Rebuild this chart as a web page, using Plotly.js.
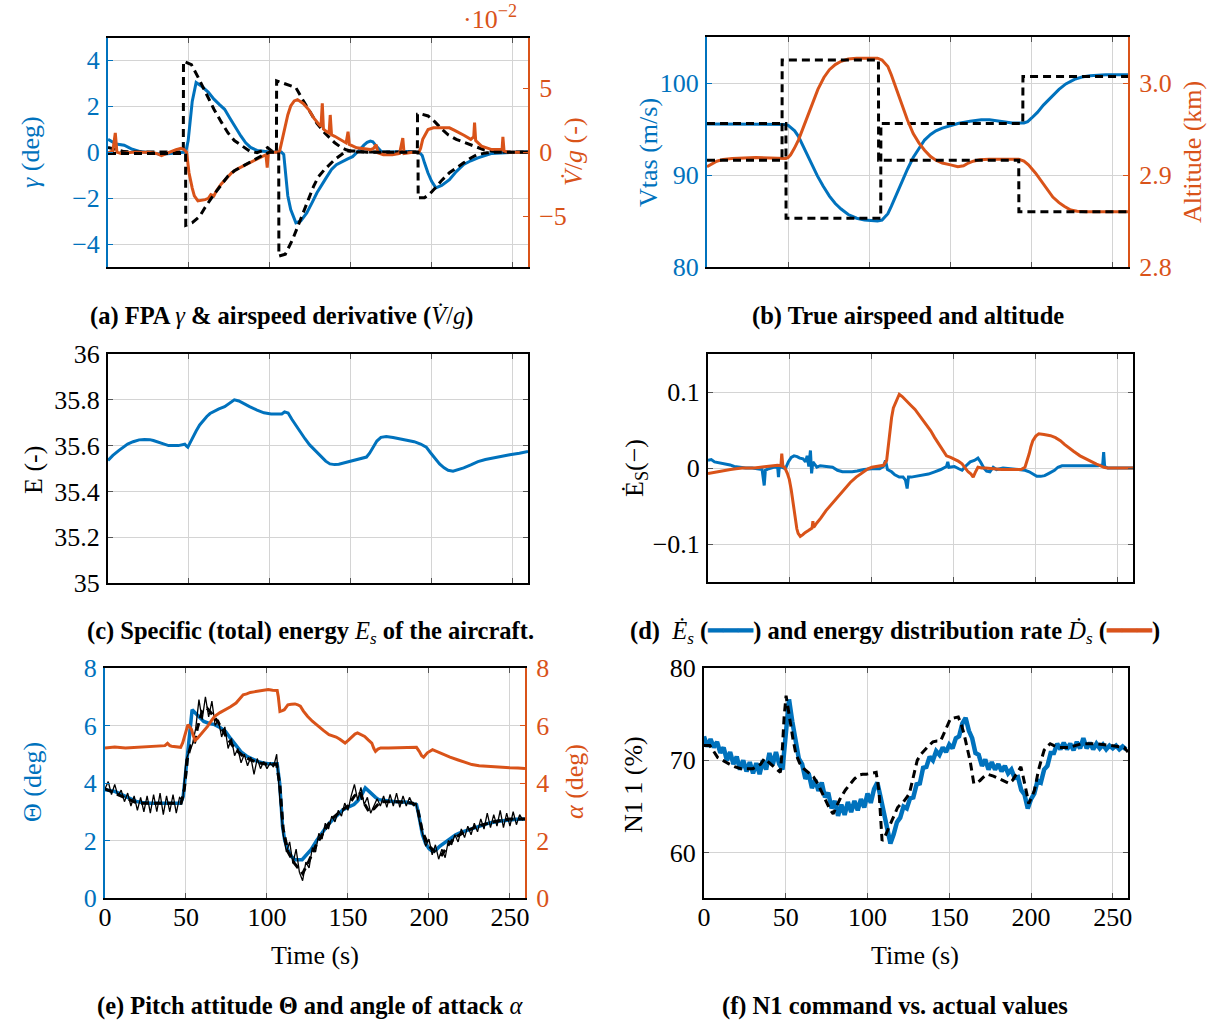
<!DOCTYPE html>
<html>
<head>
<meta charset="utf-8">
<script src="https://cdn.plot.ly/plotly-3.0.1.min.js"></script>
<style>html,body{margin:0;padding:0;background:#fff;}#chart{width:1209px;height:1021px;}</style>
</head>
<body>
<div id="chart"></div>
<script>
// ---------- DATA ----------
const xTicks = [0, 50, 100, 150, 200, 250];
const xTickText = ['0', '50', '100', '150', '200', '250'];

// (a) flight path angle gamma (deg) and airspeed derivative Vdot/g (x1e-2)
const gammaPts = [[0,0.55],[5,0.35],[10,0.3],[15,0.12],[20,0.02],[30,-0.05],[33,-0.1],[40,-0.05],[45,0],[48,0],[49.5,0.5],[52,2.2],[54.4,3.02],[58,2.85],[62,2.6],[65.4,2.3],[69,2.05],[72,1.86],[75,1.5],[78.6,1.06],[82,0.7],[85,0.4],[88,0.2],[92,0.07],[96,0.02],[100,0],[104,0],[107,0],[108.5,-0.1],[109.5,-0.9],[111,-1.9],[112.8,-2.5],[116,-3.08],[119,-3.0],[122.7,-2.65],[126,-2.2],[129,-1.77],[134,-1.2],[138,-0.76],[141,-0.55],[144.7,-0.4],[148,-0.3],[151,-0.2],[153.5,-0.05],[155.7,0.12],[158,0.3],[160,0.42],[162,0.48],[163.5,0.45],[165.6,0.26],[169,0],[175,0],[185,0.02],[192,0],[194,-0.15],[195.4,-0.47],[197.5,-0.9],[199.8,-1.27],[202.4,-1.56],[206,-1.45],[210.8,-1.2],[215,-0.85],[219.6,-0.54],[224,-0.38],[228.4,-0.25],[237,-0.06],[250,0],[259.3,0.02]];
const vdotPts = [[0,-0.05],[3,0.1],[4.5,1.5],[5.5,0.0],[8,-0.1],[15,0],[25,0],[30,-0.1],[33,-0.26],[36,-0.1],[40,0.1],[42,0.2],[45,0.3],[47,0.2],[48.5,0],[50,-1.6],[52,-2.8],[53.3,-3.4],[55.5,-3.8],[58,-3.75],[60,-3.7],[62,-3.6],[63.5,-3.3],[65.4,-3.4],[67,-3.0],[69.8,-2.5],[73,-2.1],[76.4,-1.6],[80,-1.3],[85.2,-0.96],[88,-0.8],[92,-0.57],[95,-0.35],[97.5,-0.2],[98.3,-1.2],[99,-0.05],[101,0],[105,0],[106,0.1],[107.5,1.0],[109.5,2.0],[111,2.9],[112.8,3.6],[115,4.0],[117,4.1],[120.5,3.8],[124,3.3],[127,2.67],[130,2.2],[131.5,2.0],[132.3,3.8],[133,1.8],[135,1.6],[136.5,1.5],[137.2,2.9],[138,1.35],[140,1.24],[143,1.0],[147,0.72],[148.2,1.6],[149,0.6],[153.5,0.34],[158,0.25],[162,0.2],[164,0.3],[165.5,0.6],[166.7,-0.05],[170,-0.2],[175.6,-0.2],[180,-0.1],[182,1.1],[182.8,-0.1],[188,0],[192,0],[193,0.3],[194.3,1.0],[196,1.4],[197.6,1.76],[200.9,1.9],[205,1.9],[210.8,1.9],[214,1.7],[217.4,1.5],[220,1.3],[224,1.0],[225.8,1.2],[226.3,2.3],[227,0.9],[230.6,0.47],[234,0.3],[237,0.2],[240,0.2],[243.3,0.2],[243.8,1.2],[244.5,0.1],[247,0],[259.3,0]];
const gammaCmdPts = [[0,0.2],[5,0.1],[10,0.02],[20,0],[30,0],[40,0],[46.5,0],[46.6,3.95],[51.5,3.8],[56,3.2],[60,2.6],[65.4,1.86],[70,1.3],[74,0.84],[78,0.5],[83,0.26],[87.5,0.04],[92,-0.03],[95,0.05],[98.5,0.19],[101,0.05],[104,0],[104.1,3.1],[108,3.0],[112,2.9],[116,2.8],[120,2.3],[125,1.7],[129,1.25],[133.7,0.84],[137,0.6],[140,0.4],[144,0.2],[147,0.1],[152,0],[160,0],[191,0],[191.1,1.64],[194,1.64],[197.6,1.57],[202,1.3],[206,1.0],[210,0.75],[215,0.55],[220,0.42],[224,0.33],[228,0.2],[232,0.1],[238,0.03],[245,0],[259.3,0]];
const vdotCmdPts = [[0,-0.1],[10,-0.1],[20,-0.15],[30,-0.15],[40,-0.1],[47.9,-0.1],[48,-5.7],[52,-5.5],[56.6,-5.0],[60,-4.3],[65.4,-3.3],[70,-2.5],[74,-1.87],[78,-1.45],[83,-1.1],[87,-0.8],[92,-0.44],[96,-0.2],[100,0],[105.4,0],[105.5,-8.1],[109.5,-7.95],[114,-6.8],[117,-5.8],[120.5,-4.7],[124,-3.6],[127,-2.64],[130,-1.9],[133.7,-1.35],[137,-0.9],[140,-0.57],[144,-0.2],[147,0.1],[152,0.1],[160,0],[191.4,0],[191.5,-3.55],[195.4,-3.55],[199,-3.2],[202,-2.8],[206,-2.2],[210.8,-1.6],[215,-1.2],[219.6,-0.83],[224,-0.45],[228,-0.18],[234,-0.05],[240,0],[259.3,0]];

// (b) true airspeed (m/s) and altitude (km)
const vtasPts = [[0,95.55],[20,95.55],[40,95.5],[48,95.5],[50,95.4],[51.5,95.2],[54,94.8],[56.3,94.2],[58.5,93.4],[61,92.4],[64.5,91.1],[68,89.9],[71.5,88.8],[75.4,87.7],[79,86.9],[82.6,86.3],[87,85.7],[92.2,85.3],[97,85.1],[101.8,85.0],[105,85.0],[107.8,85.1],[109.5,85.4],[111.4,85.8],[113.5,86.6],[116.2,87.7],[119.5,89.1],[123.4,90.6],[127,91.9],[130.5,92.9],[134,93.8],[137.7,94.4],[141,94.8],[144.9,95.1],[150,95.4],[154.5,95.6],[162,95.85],[168.9,96.0],[174,96.0],[178.4,95.9],[184,95.75],[188,95.65],[195.2,95.65],[197.5,95.8],[200,96.2],[203.5,96.8],[207.2,97.6],[212,98.5],[216.8,99.3],[221,99.9],[226.3,100.4],[231,100.65],[235.9,100.8],[245.5,100.9],[259.3,100.9]];
const altPts = [[0,2.909],[3,2.912],[6,2.915],[10,2.917],[15.6,2.918],[30,2.919],[44.3,2.918],[48.6,2.918],[50,2.919],[51.5,2.922],[53.8,2.929],[56.3,2.938],[58.5,2.948],[61,2.96],[64.5,2.977],[68.3,2.993],[72,3.006],[75.4,3.0145],[79,3.02],[82.6,3.0236],[87,3.026],[92.2,3.027],[101.8,3.027],[105,3.027],[107.8,3.025],[109.5,3.022],[111.4,3.018],[113.5,3.009],[116.2,2.996],[119.5,2.978],[123.4,2.96],[127,2.945],[130.5,2.935],[134,2.927],[137.7,2.92],[141,2.916],[144.9,2.913],[150,2.911],[154.5,2.909],[158,2.910],[161,2.913],[164,2.915],[168,2.9165],[173.7,2.917],[188,2.917],[192,2.917],[195.2,2.915],[198,2.911],[202.4,2.902],[206,2.893],[209.6,2.884],[213,2.876],[216.8,2.87],[220,2.866],[224,2.862],[228,2.8605],[233.5,2.86],[259.3,2.86]];
const vtasCmdPts = [[0,95.6],[48.6,95.6],[48.7,85.3],[107,85.3],[107.1,95.6],[194.5,95.6],[194.6,100.7],[259.3,100.7]];
const altCmdPts = [[0,2.916],[46.2,2.916],[46.3,3.025],[105.6,3.025],[105.7,2.916],[192,2.916],[192.1,2.86],[259.3,2.86]];

// (c) specific total energy
const energyPts = [[0,35.535],[3,35.557],[6.6,35.578],[9.5,35.595],[12.1,35.607],[15.5,35.617],[19.2,35.625],[22.5,35.627],[25.8,35.626],[28,35.622],[30.2,35.617],[34,35.607],[37.4,35.6],[43.4,35.6],[46,35.604],[47.4,35.606],[48.5,35.598],[49.3,35.593],[50.5,35.61],[52.2,35.636],[54.5,35.665],[56.6,35.69],[59,35.712],[61,35.727],[63,35.74],[65.4,35.75],[68.5,35.76],[72,35.77],[75,35.785],[78,35.8],[80.8,35.795],[84,35.782],[87.4,35.77],[92,35.755],[96.3,35.743],[100.7,35.738],[104,35.738],[107.3,35.738],[109,35.747],[111.2,35.742],[113.5,35.715],[116,35.687],[118.5,35.66],[121.6,35.63],[124.5,35.603],[127.8,35.578],[131,35.553],[134.4,35.532],[137,35.52],[139.9,35.517],[142.5,35.519],[145.4,35.524],[149,35.531],[152,35.537],[156.4,35.542],[158,35.544],[159.6,35.55],[161.5,35.567],[164,35.6],[166,35.62],[168.5,35.636],[171.8,35.64],[176,35.635],[180,35.63],[184.5,35.624],[189,35.617],[193,35.607],[196.5,35.593],[199,35.57],[202,35.542],[204.7,35.52],[207.5,35.503],[210,35.492],[213,35.488],[216,35.494],[219.6,35.503],[224,35.516],[228.4,35.53],[233,35.539],[237.4,35.546],[243,35.553],[248,35.56],[254,35.567],[259.3,35.574]];

// (d) energy rate Es_dot and distribution rate Ds_dot
const esDotPts = [[0,0.01],[2,0.011],[4,0.008],[7,0.007],[11,0.0056],[13.5,0.004],[16,0.002],[19,0.001],[23,0],[27,0],[30.4,-0.001],[33,-0.002],[34.3,-0.023],[35,-0.003],[37,-0.001],[40,0.001],[42.5,0.001],[43,-0.012],[43.5,0.001],[45,0.001],[47.2,-0.001],[49,0.008],[50.8,0.014],[52.5,0.016],[54.4,0.015],[56,0.013],[58,0.012],[59.5,0.008],[60.5,0.016],[61.5,0.002],[62.5,0.023],[63.2,-0.007],[64,0.008],[66.4,0.001],[68.5,0.003],[71.2,0.002],[74,0.001],[76,0.001],[79,-0.003],[82,-0.005],[85,-0.005],[88,-0.005],[91,-0.004],[95.2,-0.002],[100,-0.001],[104.7,-0.001],[107,0.002],[108.3,0.01],[109.5,-0.002],[112,-0.005],[114,-0.009],[116.7,-0.012],[119,-0.012],[120.5,-0.016],[121.5,-0.027],[122.3,-0.012],[124,-0.012],[127,-0.011],[131,-0.01],[134.5,-0.008],[138.3,-0.005],[142,-0.002],[145.5,0.002],[146.3,0.008],[147,0.001],[150.3,0.002],[153,-0.001],[155,-0.003],[157,0.002],[160,0.008],[162.5,0.01],[164.7,0.013],[166.3,0.008],[168.3,0],[170,-0.004],[172,-0.005],[174,0.001],[176,-0.002],[180,0],[186,-0.001],[190,-0.002],[193.4,-0.003],[196,-0.005],[198,-0.008],[200.6,-0.011],[203,-0.011],[205.4,-0.01],[208,-0.007],[211.4,-0.003],[213.5,0.001],[216,0.003],[220,0.003],[224.6,0.003],[230,0.003],[234,0.003],[238,0.003],[240.8,0.004],[241.4,0.021],[242,0.002],[244,0],[250,0],[259.3,0]];
const dsDotPts = [[0,-0.0074],[3,-0.006],[6.5,-0.005],[10,-0.0035],[13.7,-0.002],[17,-0.001],[20.9,0],[25,0],[28,0],[32,0.001],[35,0.002],[38,0.003],[42.4,0.0035],[44.5,0.003],[45,0.019],[45.7,0.002],[46.7,0.001],[48.4,-0.007],[49.6,-0.015],[50.8,-0.029],[52,-0.048],[53.2,-0.068],[54.2,-0.08],[55,-0.086],[56.3,-0.09],[57.7,-0.088],[59.2,-0.085],[61.5,-0.082],[63.5,-0.079],[64,-0.07],[64.5,-0.078],[66.5,-0.072],[68.8,-0.066],[72,-0.056],[76,-0.046],[79.5,-0.036],[83.2,-0.027],[86.8,-0.019],[90.4,-0.012],[94,-0.006],[97.6,-0.001],[100,0.001],[102.4,0.002],[105,0.003],[107.1,0.0035],[109,0.01],[110,0.03],[110.7,0.049],[112,0.066],[113.1,0.079],[115,0.09],[116.7,0.097],[118.5,0.094],[121.5,0.088],[124,0.082],[126.3,0.077],[128.7,0.07],[131,0.062],[133.5,0.055],[135.9,0.049],[138.3,0.04],[140.7,0.032],[143,0.024],[145.5,0.016],[148,0.014],[150.3,0.012],[152.7,0.009],[155,0.0056],[157,0],[158.7,-0.005],[160.5,-0.008],[161.8,-0.012],[163,-0.006],[164.7,0.001],[167,0],[169.5,0],[174,-0.001],[179,-0.002],[185,-0.002],[191,-0.002],[193.4,0.001],[194.8,0.01],[196,0.019],[197,0.028],[198.2,0.036],[200,0.042],[201.8,0.045],[205,0.044],[209,0.0425],[212,0.04],[215,0.036],[217.5,0.031],[219.8,0.027],[223,0.022],[227,0.016],[230.5,0.012],[234.2,0.008],[237,0.005],[239,0.0035],[241.5,0.001],[243.8,0],[259.3,0]];

// (e) pitch attitude theta (deg) and angle of attack alpha (deg)
const thetaPts = [[0,3.77],[3,3.75],[6,3.71],[9,3.63],[12.6,3.54],[16,3.45],[19.2,3.36],[23,3.32],[28,3.3],[39,3.3],[46.7,3.3],[48.3,3.54],[49.8,4.3],[51.2,5.16],[52.5,5.9],[53.8,6.55],[55,6.48],[56.7,6.38],[59,6.25],[61,6.14],[64,6.08],[67.7,6.03],[71,5.93],[74.3,5.8],[77.5,5.55],[80.9,5.28],[84,5.08],[87.5,4.93],[91,4.82],[94.2,4.75],[97.5,4.7],[100.8,4.67],[106.3,4.67],[107.8,4.0],[108.8,3.2],[109.6,2.49],[111,2.0],[112.9,1.68],[115,1.45],[117.3,1.33],[121.7,1.33],[124.5,1.5],[127.2,1.68],[130.5,1.98],[133.8,2.26],[137,2.5],[140.5,2.72],[144,2.92],[147,3.07],[150.5,3.17],[153.7,3.25],[156,3.38],[158,3.54],[160.7,3.83],[162.7,3.72],[164.7,3.59],[167,3.5],[169,3.42],[173,3.38],[178,3.36],[186.8,3.33],[190,3.3],[192.3,3.25],[193.5,2.95],[194.5,2.61],[196,2.2],[197.8,1.91],[200,1.72],[202.2,1.62],[204.5,1.68],[206.6,1.8],[210,1.95],[213.2,2.09],[216.5,2.2],[219.8,2.28],[224,2.36],[228.7,2.43],[233,2.52],[237.5,2.61],[243,2.67],[248.5,2.72],[254,2.74],[259.3,2.75]];
const thetaMeasDt = 2; // sampling interval (s) of the measured pitch signal, starting at t = 0
const thetaMeas = [3.8,4.05,3.6,3.95,3.55,3.75,3.35,3.65,3.2,3.55,3.05,3.5,3.0,3.55,2.95,3.6,3.0,3.65,2.9,3.55,3.0,3.6,2.95,3.5,3.4,4.8,5.1,5.35,5.9,6.9,6.2,7.0,6.3,6.85,6.0,6.2,5.6,5.95,5.2,5.55,4.95,5.2,4.7,5.0,4.6,4.9,4.3,4.85,4.5,4.75,4.5,4.7,4.55,5.0,3.4,2.2,1.6,1.95,1.2,1.7,0.9,0.6,1.25,1.05,1.75,1.6,2.25,2.05,2.6,2.4,2.85,2.65,3.05,2.85,3.3,3.05,3.55,3.95,3.4,3.85,3.25,3.5,2.95,3.2,3.45,3.2,3.55,3.15,3.6,3.2,3.65,3.15,3.55,3.2,3.5,3.25,3.3,2.7,2.2,1.8,2.05,1.5,1.85,1.35,1.7,1.4,2.0,1.85,2.2,1.95,2.4,2.1,2.5,2.2,2.6,2.3,2.75,2.4,2.95,2.45,2.9,2.5,3.05,2.45,2.95,2.5,3.0,2.55,2.9,2.7];
const thetaCmdPts = [[0,3.8],[10,3.55],[20,3.3],[47,3.3],[49,3.8],[51,4.9],[53,5.3],[55,5.3],[57,5.9],[60,6.5],[63,6.6],[66,6.4],[70,6.1],[75,5.6],[80,5.2],[85,4.95],[90,4.8],[95,4.7],[100,4.65],[106,4.65],[108,3.9],[110,2.4],[113,1.6],[117,1.2],[120,1.0],[122,0.85],[126,1.3],[130,1.8],[135,2.3],[140,2.75],[145,3.0],[150,3.2],[154,3.55],[157,3.7],[160,3.3],[163,3.0],[166,3.1],[170,3.35],[180,3.35],[190,3.3],[193,3.1],[196,2.3],[200,1.8],[204,1.6],[208,1.5],[212,1.85],[216,2.1],[222,2.3],[230,2.5],[240,2.65],[250,2.75],[259.3,2.75]];
const alphaPts = [[0,5.22],[6,5.25],[12.6,5.22],[18,5.24],[23.6,5.25],[29,5.27],[34.6,5.28],[37,5.3],[38.6,5.38],[40,5.3],[41.2,5.28],[44,5.26],[46.7,5.24],[48,5.4],[49,5.62],[50,5.85],[51.2,6.03],[52.3,5.95],[53.4,5.86],[54.5,5.65],[55.6,5.48],[57,5.55],[59,5.68],[61,5.82],[63.3,5.97],[65.5,6.15],[67.7,6.32],[71,6.45],[74.3,6.55],[77.5,6.65],[80.9,6.78],[83,6.92],[85.3,7.07],[87.5,7.1],[89.7,7.15],[92,7.17],[94.2,7.19],[97.5,7.22],[100.8,7.25],[103.5,7.23],[106.3,7.22],[107,7.0],[108,6.49],[109.5,6.52],[110.7,6.55],[112,6.65],[112.9,6.72],[115,6.74],[117.3,6.75],[119,6.72],[120.6,6.67],[122.5,6.5],[125,6.32],[128,6.15],[131.6,5.97],[135,5.82],[138.3,5.68],[140.5,5.64],[142.7,5.6],[145,5.52],[148.2,5.39],[150.5,5.5],[152.6,5.62],[154.3,5.7],[155.9,5.74],[158,5.68],[160.3,5.62],[162.5,5.5],[164.7,5.39],[166,5.2],[167,5.1],[168.5,5.18],[170.2,5.22],[175,5.22],[180,5.22],[186,5.23],[192.3,5.24],[194,5.1],[195.5,4.95],[196.7,4.9],[199,5.05],[202.2,5.16],[205.5,5.08],[208.8,4.99],[213,4.9],[217.6,4.81],[222,4.72],[226.5,4.64],[231,4.6],[235.3,4.58],[240,4.57],[244.1,4.56],[250,4.53],[255,4.52],[259.3,4.5]];

// (f) N1 command vs actual (%)
const n1CmdPts = [[0,71.6],[3.6,71.6],[8.4,70.3],[12,69.9],[15.5,69.6],[19,69.3],[22.7,69.1],[26,69.1],[29.9,69.1],[32,69.3],[34.7,69.6],[37,70.2],[39.5,69.8],[41.9,69.4],[44.5,69.0],[46.7,68.7],[48,71.5],[49,74.7],[50.2,77],[51.5,75.5],[52.6,73.9],[54.5,72.2],[56.2,70.7],[58.5,69.7],[61,69.1],[64,68.6],[67,68.2],[69.5,67.5],[71.8,66.7],[73.5,66.0],[75.4,65.3],[77,64.7],[79,64.2],[81,65.0],[83.7,66.0],[86.5,66.8],[89.7,67.5],[92,68.0],[94.5,68.4],[97,68.5],[99.3,68.5],[102,68.6],[105.3,68.7],[107,66.7],[108,64],[108.9,61.3],[110,61.5],[111.2,62],[113,62.8],[114.8,63.5],[116.5,64.2],[118.4,64.9],[120,65.2],[122,65.5],[124,66.0],[125.6,66.4],[128,68.2],[130.4,70.0],[132.8,70.7],[135.2,71.2],[137.5,71.6],[140,72.0],[142.5,72.1],[144.7,72.1],[147.5,73.2],[150.7,74.5],[153,74.6],[155.5,74.7],[157.3,73.9],[159,72.9],[161,71.3],[162.7,70.0],[164,68.6],[165,67.5],[166.8,67.6],[168.7,67.8],[171,68.2],[173.4,68.5],[177,68.3],[180.6,68.0],[183.5,67.8],[186.6,67.5],[188.5,67.8],[190,68.2],[192,68.8],[193.8,69.3],[195,68.4],[196.2,67.5],[197.4,66.4],[198.6,65.3],[200.3,66.0],[202,66.7],[203.3,67.8],[204.5,68.9],[206.2,70.0],[208,71.1],[209.8,71.5],[211.7,71.8],[214,71.6],[216.5,71.4],[220,71.4],[223.7,71.4],[227,71.6],[230.9,71.8],[235,71.8],[240.4,71.8],[245,71.7],[250,71.6],[254,71.5],[257,71.4],[259.3,70.9]];
const n1Dt = 2; // sampling interval (s) of the measured N1 signal, starting at t = 0
const n1Meas = [72.6,71.5,72.3,71.4,72.0,70.8,71.4,70.0,70.9,69.6,70.4,69.0,70.0,68.8,69.8,68.6,69.7,68.5,70.0,69.0,70.8,69.5,70.9,69.6,69.0,72.8,76.6,74.2,72.3,70.2,69.6,68.0,68.6,67.0,67.9,66.7,67.6,66.0,66.5,64.8,65.6,64.0,65.2,64.1,65.5,64.4,65.6,64.6,65.8,64.9,66.4,65.4,66.9,67.6,66.0,64.3,62.4,61.0,62.0,63.3,63.8,65.0,64.8,65.9,66.0,67.4,67.5,69.2,69.3,70.4,70.0,71.0,70.6,71.4,70.9,71.7,71.3,72.4,72.6,74.0,74.6,73.2,72.4,70.8,70.6,69.4,70.1,69.0,69.8,69.0,69.6,68.8,69.4,68.6,69.0,68.1,68.2,66.8,66.3,64.8,65.8,66.4,67.8,67.6,69.0,69.4,70.8,70.8,71.8,71.2,71.9,71.2,71.8,71.1,72.0,71.3,72.4,71.3,71.9,71.2,71.8,71.3,71.7,71.2,71.6,71.3,71.6,71.2,71.5,71.2];

// ---------- HELPERS ----------
const W = 1209, H = 1021;
const BLUE = '#0072BD', ORANGE = '#D95319', GRID = '#d4d4d4';
const FONT = 'Liberation Serif, Times New Roman, serif';
const XR = [0, 259.3];
const xs = p => p.map(v => v[0]);
const ys = p => p.map(v => v[1]);
const sampled = (arr, dt) => arr.map((_, i) => i * dt);

const xd = (a, b) => [a / W, b / W];
const yd = (a, b) => [1 - b / H, 1 - a / H];

const box = {
  a: [108, 528, 38, 267],
  b: [707, 1128, 37, 267],
  c: [108, 528, 354, 583],
  d: [708, 1133, 354, 582],
  e: [105, 525, 668, 898],
  f: [704, 1128, 668, 898]
};

function xAxis(bx, anchor, labels) {
  return {
    domain: xd(bx[0], bx[1]), anchor: anchor, range: XR,
    tickmode: 'array', tickvals: xTicks, ticktext: xTickText, showticklabels: labels,
    showgrid: true, gridcolor: GRID, gridwidth: 1, zeroline: false,
    showline: true, linecolor: 'black', linewidth: 2, mirror: 'ticks',
    ticks: 'inside', ticklen: 5, tickwidth: 1, tickcolor: '#555',
    tickfont: {family: FONT, size: 26, color: 'black'}, ticklabelstandoff: -5, fixedrange: true
  };
}
function yAxis(bx, anchor, range, vals, text, color, lineColor, mirror) {
  return {
    domain: yd(bx[2], bx[3]), anchor: anchor, range: range,
    tickmode: 'array', tickvals: vals, ticktext: text,
    showgrid: true, gridcolor: GRID, gridwidth: 1, zeroline: false,
    showline: true, linecolor: lineColor, linewidth: 2, mirror: mirror,
    ticks: 'inside', ticklen: 5, tickwidth: 1, tickcolor: lineColor === 'black' ? '#555' : lineColor,
    tickfont: {family: FONT, size: 26, color: color}, ticklabelstandoff: 1, fixedrange: true
  };
}
function yRight(overlay, anchor, range, vals, text, color) {
  return {
    overlaying: overlay, side: 'right', anchor: anchor, range: range,
    tickmode: 'array', tickvals: vals, ticktext: text,
    showgrid: false, zeroline: false,
    showline: true, linecolor: color, linewidth: 2,
    ticks: 'inside', ticklen: 5, tickwidth: 1, tickcolor: color,
    tickfont: {family: FONT, size: 26, color: color}, ticklabelstandoff: 4, fixedrange: true
  };
}
function line(x, y, xa, ya, color, width, dash) {
  return {x: x, y: y, xaxis: xa, yaxis: ya, type: 'scatter', mode: 'lines',
          line: {color: color, width: width, dash: dash || 'solid'}, hoverinfo: 'skip'};
}
function ann(text, x, y, o) {
  return Object.assign({text: text, x: x / W, y: 1 - y / H, xref: 'paper', yref: 'paper',
    showarrow: false, xanchor: 'center', yanchor: 'middle',
    font: {family: FONT, size: 26, color: 'black'}}, o || {});
}

const DASH = '8px,5px';
const CAP = {family: FONT, size: 24.5, color: 'black'};

// ---------- TRACES ----------
const data = [
  // (a)
  line(xs(gammaPts), ys(gammaPts), 'x', 'y', BLUE, 3),
  line(xs(gammaCmdPts), ys(gammaCmdPts), 'x', 'y', 'black', 3, DASH),
  line(xs(vdotPts), ys(vdotPts), 'x', 'y2', ORANGE, 3),
  line(xs(vdotCmdPts), ys(vdotCmdPts), 'x', 'y2', 'black', 3, DASH),
  // (b)
  line(xs(vtasPts), ys(vtasPts), 'x2', 'y3', BLUE, 3),
  line(xs(vtasCmdPts), ys(vtasCmdPts), 'x2', 'y3', 'black', 3, DASH),
  line(xs(altPts), ys(altPts), 'x2', 'y4', ORANGE, 3),
  line(xs(altCmdPts), ys(altCmdPts), 'x2', 'y4', 'black', 3, DASH),
  // (c)
  line(xs(energyPts), ys(energyPts), 'x3', 'y5', BLUE, 3),
  // (d)
  line(xs(esDotPts), ys(esDotPts), 'x4', 'y6', BLUE, 3),
  line(xs(dsDotPts), ys(dsDotPts), 'x4', 'y6', ORANGE, 3),
  // (e)
  line(xs(thetaPts), ys(thetaPts), 'x5', 'y7', BLUE, 3.5),
  line(sampled(thetaMeas, thetaMeasDt), thetaMeas, 'x5', 'y7', 'black', 1.3),
  line(xs(thetaCmdPts), ys(thetaCmdPts), 'x5', 'y7', 'black', 3, DASH),
  line(xs(alphaPts), ys(alphaPts), 'x5', 'y8', ORANGE, 3),
  // (f)
  line(sampled(n1Meas, n1Dt), n1Meas, 'x6', 'y9', BLUE, 4.5),
  line(xs(n1CmdPts), ys(n1CmdPts), 'x6', 'y9', 'black', 3, DASH)
];

// ---------- LAYOUT ----------
const layout = {
  width: W, height: H,
  margin: {l: 0, r: 0, t: 0, b: 0, pad: 0},
  paper_bgcolor: 'white', plot_bgcolor: 'white',
  showlegend: false,
  font: {family: FONT, size: 26, color: 'black'},
  xaxis: xAxis(box.a, 'y', false),
  yaxis: yAxis(box.a, 'x', [-5, 4.96], [-4, -2, 0, 2, 4], ['−4', '−2', '0', '2', '4'], BLUE, BLUE, false),
  yaxis2: yRight('y', 'x', [-8.95, 8.9], [-5, 0, 5], ['−5', '0', '5'], ORANGE),
  xaxis2: xAxis(box.b, 'y3', false),
  yaxis3: yAxis(box.b, 'x2', [80, 105], [80, 90, 100], ['80', '90', '100'], BLUE, BLUE, false),
  yaxis4: yRight('y3', 'x2', [2.8, 3.05], [2.8, 2.9, 3.0], ['2.8', '2.9', '3.0'], ORANGE),
  xaxis3: xAxis(box.c, 'y5', false),
  yaxis5: yAxis(box.c, 'x3', [35, 36], [35, 35.2, 35.4, 35.6, 35.8, 36], ['35', '35.2', '35.4', '35.6', '35.8', '36'], 'black', 'black', 'ticks'),
  xaxis4: xAxis(box.d, 'y6', false),
  yaxis6: yAxis(box.d, 'x4', [-0.15, 0.15], [-0.1, 0, 0.1], ['−0.1', '0', '0.1'], 'black', 'black', 'ticks'),
  xaxis5: xAxis(box.e, 'y7', true),
  yaxis7: yAxis(box.e, 'x5', [0, 8], [0, 2, 4, 6, 8], ['0', '2', '4', '6', '8'], BLUE, BLUE, false),
  yaxis8: yRight('y7', 'x5', [0, 8], [0, 2, 4, 6, 8], ['0', '2', '4', '6', '8'], ORANGE),
  xaxis6: xAxis(box.f, 'y9', true),
  yaxis9: yAxis(box.f, 'x6', [55.1, 80], [60, 70, 80], ['60', '70', '80'], 'black', 'black', 'ticks'),
  annotations: [
    // axis titles
    ann('<i>γ</i> (deg)', 30, 152, {textangle: -90, font: {family: FONT, size: 26, color: BLUE}}),
    ann('<i>V̇</i>/<i>g</i> (-)', 573, 152, {textangle: -90, font: {family: FONT, size: 26, color: ORANGE}}),
    ann('·10<sup>−2</sup>', 490, 18, {font: {family: FONT, size: 26, color: ORANGE}}),
    ann('Vtas (m/s)', 648, 152, {textangle: -90, font: {family: FONT, size: 26, color: BLUE}}),
    ann('Altitude (km)', 1192, 152, {textangle: -90, font: {family: FONT, size: 26, color: ORANGE}}),
    ann('E (-)', 33, 470, {textangle: -90}),
    ann('Ė<sub>S</sub>(−)', 636, 468, {textangle: -90}),
    ann('Θ (deg)', 32, 782, {textangle: -90, font: {family: FONT, size: 26, color: BLUE}}),
    ann('<i>α</i> (deg)', 574, 782, {textangle: -90, font: {family: FONT, size: 26, color: ORANGE}}),
    ann('N1 1 (%)', 633, 784, {textangle: -90}),
    ann('Time (s)', 315, 955),
    ann('Time (s)', 915, 955),
    // captions
    ann('<b>(a) FPA </b><i>γ</i><b> &amp; airspeed derivative (</b><i>V̇</i>/<i>g</i><b>)</b>', 281, 316, {font: CAP}),
    ann('<b>(b) True airspeed and altitude</b>', 908, 316, {font: CAP}),
    ann('<b>(c) Specific (total) energy </b><i>E<sub>s</sub></i><b> of the aircraft.</b>', 310, 632, {font: CAP}),
    ann('<b>(d)</b>  <i>Ė<sub>s</sub></i> <b>(</b><span style="color:' + BLUE + '">━━━</span><b>) and energy distribution rate </b><i>Ḋ<sub>s</sub></i> <b>(</b><span style="color:' + ORANGE + '">━━━</span><b>)</b>', 895, 632, {font: CAP}),
    ann('<b>(e) Pitch attitude Θ and angle of attack </b><i>α</i>', 310, 1006, {font: CAP}),
    ann('<b>(f) N1 command vs. actual values</b>', 895, 1006, {font: CAP})
  ]
};

Plotly.newPlot('chart', data, layout, {staticPlot: true, displayModeBar: false});
</script>
</body>
</html>
